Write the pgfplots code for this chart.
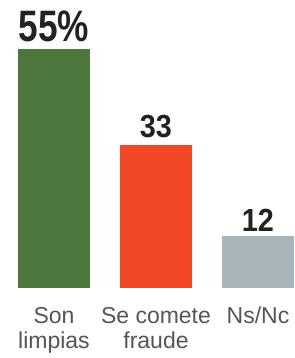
\documentclass[border=0pt]{standalone}
\usepackage{pgfplots}
\pgfplotsset{compat=1.18}
\usepackage{fontspec}
\setmainfont{Liberation Sans}
\definecolor{bargreen}{RGB}{76,120,60}
\definecolor{barred}{RGB}{242,72,40}
\definecolor{bargray}{RGB}{168,180,186}
\definecolor{numtext}{RGB}{34,34,34}
\definecolor{labtext}{RGB}{85,85,85}
\tikzset{lab/.style={anchor=base, inner sep=0pt, text=labtext, font=\fontsize{23}{25}\selectfont}}
\begin{document}
\begin{tikzpicture}
\begin{axis}[
  scale only axis,
  width=294pt, height=288pt,
  xmin=-0.529, xmax=2.353,
  ymin=0, ymax=66.28,
  axis lines=none,
  clip=false,
  ybar, bar width=0.706, bar shift=0pt,
  xtick=\empty, ytick=\empty,
]
\addplot[fill=bargreen, draw=none, bar shift=0pt] coordinates {(0,55)};
\addplot[fill=barred, draw=none, bar shift=0pt] coordinates {(1,33)};
\addplot[fill=bargray, draw=none, bar shift=0pt] coordinates {(2,12)};
\node[anchor=south, inner sep=0pt, text=numtext] at (axis cs:0,55) [yshift=7pt]
  {\scalebox{0.8}[1]{\fontsize{44}{44}\selectfont\bfseries 55\%}};
\node[anchor=south, inner sep=0pt, text=numtext] at (axis cs:1,33) [yshift=7pt]
  {\scalebox{0.9}[1]{\fontsize{32}{32}\selectfont\bfseries 33}};
\node[anchor=south, inner sep=0pt, text=numtext] at (axis cs:2,12) [yshift=4pt]
  {\scalebox{0.9}[1]{\fontsize{32}{32}\selectfont\bfseries 12}};
\node[lab] at (axis cs:0,0) [yshift=-35pt] {Son};
\node[lab] at (axis cs:0,0) [yshift=-60pt] {limpias};
\node[lab] at (axis cs:1,0) [yshift=-35pt] {Se comete};
\node[lab] at (axis cs:1,0) [yshift=-60pt] {fraude};
\node[lab] at (axis cs:2,0) [yshift=-35pt] {Ns/Nc};
\end{axis}
\pgfresetboundingbox
\path[use as bounding box] (0,-70pt) rectangle (294pt,288pt);
\end{tikzpicture}
\end{document}
